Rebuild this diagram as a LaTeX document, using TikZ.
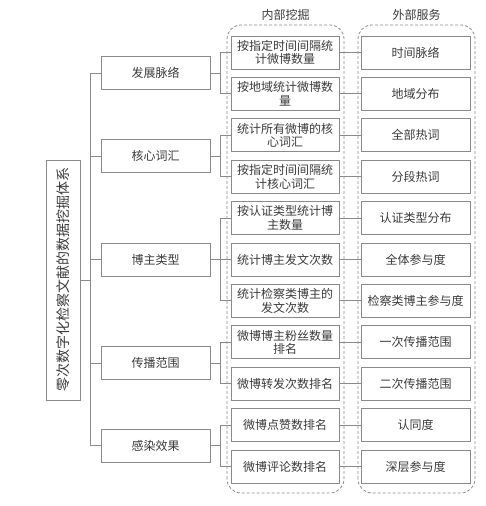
\documentclass[tikz,border=0pt]{standalone}
\usepackage{fontspec}
\setmainfont{Noto Sans CJK SC}
\definecolor{lg}{HTML}{8A8A8A}
\definecolor{tg}{HTML}{3A3A3A}
\begin{document}
\begin{tikzpicture}[x=1pt,y=1pt,
  bx/.style={draw=lg, line width=0.8pt, minimum height=33pt, inner sep=0pt, align=center, text=tg, font=\fontsize{12}{13.5}\selectfont},
  lone/.style={bx, minimum width=109pt},
  ltwo/.style={bx, minimum width=108pt},
  lthree/.style={bx, minimum width=109pt},
  conn/.style={draw=lg, line width=0.8pt},
  grp/.style={draw=lg, line width=0.8pt, dash pattern=on 3pt off 2pt, rounded corners=14pt},
  hdr/.style={text=tg, font=\fontsize{12}{14}\selectfont, inner sep=0pt}]
\useasboundingbox (0,0) rectangle (485,506);
% groups
\draw[grp] (227,13) rectangle (344,481);
\draw[grp] (358,13) rectangle (475,481);
\node[hdr] (h1) at (285.5,491) {内部挖掘};
\node[hdr] (h2) at (416.5,491) {外部服务};
% root
\node[draw=lg, line width=0.8pt, rotate=90, minimum width=240pt, minimum height=34pt, inner sep=0pt, text=tg, font=\fontsize{14}{16}\selectfont] (root) at (63,226) {零次数字化检察文献的数据挖掘体系};
% level 1
\node[lone] (a) at (155.5,432.8) {发展脉络};
\node[lone] (b) at (155.5,350) {核心词汇};
\node[lone] (c) at (155.5,246.5) {博主类型};
\node[lone] (d) at (155.5,143) {传播范围};
\node[lone] (e) at (155.5,60.2) {感染效果};
% level 2
\node[ltwo] (a1) at (285,453.5) {按指定时间间隔统\\计微博数量};
\node[ltwo] (a2) at (285,412.1) {按地域统计微博数\\量};
\node[ltwo] (b1) at (285,370.7) {统计所有微博的核\\心词汇};
\node[ltwo] (b2) at (285,329.3) {按指定时间间隔统\\计核心词汇};
\node[ltwo] (c1) at (285,287.9) {按认证类型统计博\\主数量};
\node[ltwo] (c2) at (285,246.5) {统计博主发文次数};
\node[ltwo] (c3) at (285,205.1) {统计检察类博主的\\发文次数};
\node[ltwo] (d1) at (285,163.7) {微博博主粉丝数量\\排名};
\node[ltwo] (d2) at (285,122.3) {微博转发次数排名};
\node[ltwo] (e1) at (285,80.9) {微博点赞数排名};
\node[ltwo] (e2) at (285,39.5) {微博评论数排名};
% level 3
\node[lthree] (a1s) at (415.5,453.5) {时间脉络};
\node[lthree] (a2s) at (415.5,412.1) {地域分布};
\node[lthree] (b1s) at (415.5,370.7) {全部热词};
\node[lthree] (b2s) at (415.5,329.3) {分段热词};
\node[lthree] (c1s) at (415.5,287.9) {认证类型分布};
\node[lthree] (c2s) at (415.5,246.5) {全体参与度};
\node[lthree] (c3s) at (415.5,205.1) {检察类博主参与度};
\node[lthree] (d1s) at (415.5,163.7) {一次传播范围};
\node[lthree] (d2s) at (415.5,122.3) {二次传播范围};
\node[lthree] (e1s) at (415.5,80.9) {认同度};
\node[lthree] (e2s) at (415.5,39.5) {深层参与度};
% trunk
\coordinate (tr) at (90,0);
\coordinate (bus) at (220,0);
\draw[conn] (root.south) -- (root.south -| tr);
\draw[conn] (a.west -| tr) -- (e.west -| tr);
\foreach \n in {a,b,c,d,e} {\draw[conn] (\n.west -| tr) -- (\n.west);}
% buses
\foreach \p/\f/\l in {a/a1/a2, b/b1/b2, c/c1/c3, d/d1/d2, e/e1/e2} {
  \draw[conn] (\p.east) -- (\p.east -| bus);
  \draw[conn] (\f.west -| bus) -- (\l.west -| bus);
}
\foreach \n in {a1,a2,b1,b2,c1,c2,c3,d1,d2,e1,e2} {
  \draw[conn] (\n.west -| bus) -- (\n.west);
  \draw[conn] (\n.east) -- (\n s.west);
}
\end{tikzpicture}
\end{document}
